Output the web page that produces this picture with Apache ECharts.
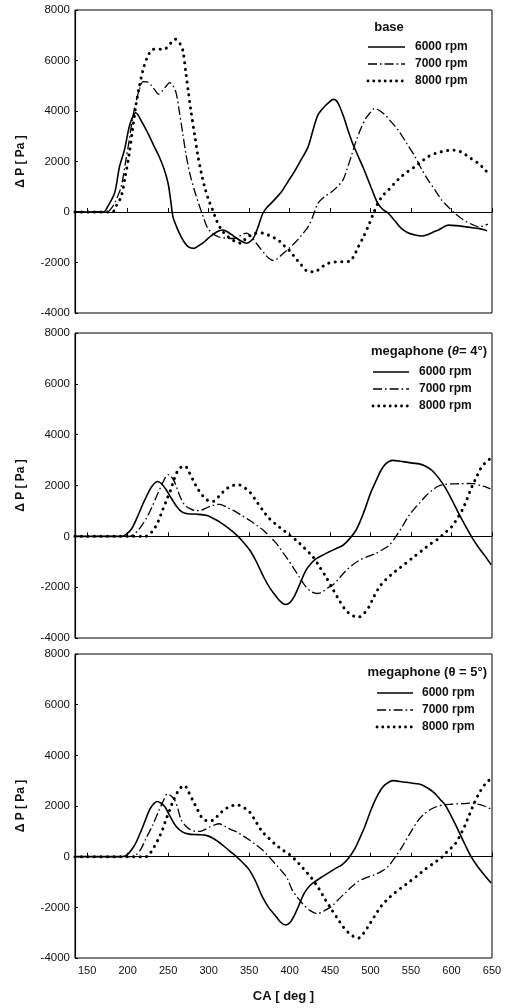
<!DOCTYPE html>
<html>
<head>
<meta charset="utf-8">
<script src="https://cdn.jsdelivr.net/npm/echarts@6/dist/echarts.min.js"></script>
<style>
  html, body { margin: 0; padding: 0; background: #fff; }
  #chart { width: 514px; height: 1008px; }
</style>
</head>
<body>
<div id="chart"></div>
<script>
// Crank-angle ticks and pressure ticks
const caTicks = [150, 200, 250, 300, 350, 400, 450, 500, 550, 600, 650];
const rpmNames = ['6000 rpm', '7000 rpm', '8000 rpm'];
const panelTitles = ['base', 'megaphone (θ= 4°)', 'megaphone (θ = 5°)'];

// Pressure fluctuation ΔP [Pa] vs crank angle [deg] — base pipe
const base6000 = [[135,0],[170,0],[176,250],[184,760],[190,1800],[196,2450],[202,3380],[206,3750],[210,3930],[217,3600],[225,3120],[232,2650],[239,2190],[245,1700],[250,1130],[253,500],[256,-190],[260,-550],[264,-850],[269,-1150],[275,-1380],[282,-1440],[288,-1330],[295,-1170],[301,-1000],[307,-850],[313,-740],[318,-710],[325,-820],[332,-980],[340,-1150],[347,-1240],[352,-1150],[356,-1000],[361,-600],[367,-50],[372,180],[377,340],[384,580],[390,800],[400,1300],[406,1600],[414,2050],[423,2590],[429,3250],[435,3840],[443,4170],[449,4350],[454,4460],[458,4400],[462,4170],[467,3750],[472,3250],[478,2700],[485,2190],[491,1750],[497,1270],[503,780],[509,340],[515,110],[522,-50],[530,-350],[538,-650],[546,-820],[555,-910],[563,-950],[570,-900],[577,-800],[584,-710],[590,-600],[596,-520],[606,-540],[616,-580],[625,-620],[633,-650],[639,-690],[644,-740]];
const base7000 = [[135,0],[175,0],[180,150],[185,420],[192,1000],[197,1900],[202,2850],[206,3700],[211,4450],[215,4900],[219,5160],[224,5150],[229,5030],[234,4820],[238,4670],[243,4800],[248,5000],[252,5120],[256,5000],[260,4700],[264,3950],[268,3120],[272,2300],[277,1500],[283,800],[289,210],[294,-250],[299,-650],[305,-850],[312,-980],[318,-1020],[324,-1040],[330,-1050],[336,-1000],[342,-880],[347,-840],[352,-950],[359,-1240],[364,-1450],[369,-1640],[374,-1820],[380,-1920],[385,-1850],[390,-1700],[398,-1480],[406,-1240],[414,-950],[423,-580],[429,-150],[435,340],[443,600],[452,800],[459,1000],[466,1270],[471,1700],[476,2190],[482,2800],[489,3380],[494,3700],[499,3910],[505,4100],[511,4020],[518,3840],[526,3550],[534,3250],[544,2750],[555,2190],[563,1700],[571,1270],[580,850],[588,470],[596,200],[604,-50],[611,-230],[618,-380],[626,-500],[633,-580],[639,-560],[645,-480]];
const base8000 = [[135,0],[181,0],[186,250],[192,610],[197,1400],[202,2320],[206,3250],[210,4170],[214,4900],[219,5620],[224,6100],[231,6440],[238,6450],[245,6440],[251,6600],[255,6750],[259,6840],[264,6700],[268,6420],[272,5490],[275,4750],[278,4040],[283,3000],[287,2190],[291,1550],[295,1000],[300,480],[305,80],[310,-350],[316,-710],[322,-920],[328,-1080],[334,-1180],[340,-1240],[346,-1050],[352,-920],[357,-850],[363,-830],[369,-850],[377,-960],[386,-1110],[392,-1300],[399,-1500],[406,-1770],[414,-2080],[423,-2360],[431,-2370],[439,-2200],[447,-2040],[456,-1980],[465,-1970],[474,-1960],[480,-1700],[485,-1370],[491,-1000],[497,-580],[503,-100],[509,340],[515,650],[522,870],[530,1150],[538,1400],[546,1600],[555,1800],[563,2000],[571,2190],[580,2320],[588,2390],[596,2440],[603,2450],[610,2400],[616,2300],[624,2120],[633,1930],[640,1720],[647,1470]];

// Megaphone, θ = 4°
const mega4_6000 = [[135,0],[192,0],[198,80],[205,300],[212,760],[220,1350],[228,1870],[233,2080],[237,2160],[242,2070],[247,1860],[254,1500],[261,1150],[267,960],[274,890],[286,870],[298,820],[306,700],[314,560],[324,330],[335,40],[343,-230],[351,-550],[359,-1000],[368,-1600],[376,-2050],[384,-2390],[390,-2600],[395,-2680],[400,-2620],[406,-2350],[413,-1850],[420,-1350],[427,-1050],[433,-880],[441,-740],[449,-610],[457,-490],[466,-350],[474,-100],[482,240],[488,650],[494,1150],[500,1700],[507,2200],[513,2600],[519,2860],[527,2990],[540,2940],[552,2880],[560,2850],[568,2760],[576,2590],[584,2300],[593,1880],[601,1400],[609,890],[617,420],[625,-30],[633,-420],[641,-760],[649,-1120]];
const mega4_7000 = [[135,0],[202,0],[206,50],[212,200],[218,450],[224,760],[230,1150],[236,1600],[241,1940],[246,2280],[250,2430],[253,2380],[257,2200],[261,1880],[265,1550],[270,1250],[277,1090],[284,1010],[290,1020],[296,1100],[302,1180],[308,1240],[314,1260],[322,1150],[331,1010],[341,820],[351,620],[360,420],[368,230],[376,-30],[384,-290],[390,-560],[396,-820],[404,-1200],[412,-1600],[420,-1980],[427,-2180],[434,-2250],[441,-2180],[447,-2030],[454,-1900],[462,-1620],[470,-1340],[478,-1120],[486,-950],[496,-800],[506,-680],[515,-520],[523,-350],[531,-20],[539,370],[547,800],[555,1120],[560,1290],[568,1580],[576,1810],[584,1980],[592,2040],[600,2060],[610,2070],[620,2080],[628,2070],[636,2000],[643,1940],[648,1870]];
const mega4_8000 = [[135,0],[222,0],[226,60],[230,180],[233,300],[238,600],[243,1020],[248,1420],[253,1810],[257,2200],[261,2530],[266,2720],[271,2760],[276,2520],[281,2200],[287,1850],[294,1550],[300,1400],[306,1380],[314,1620],[322,1870],[330,2000],[337,2030],[344,1920],[351,1740],[359,1380],[367,1020],[375,700],[384,450],[392,250],[400,50],[408,-150],[418,-450],[429,-810],[437,-1200],[445,-1600],[453,-2050],[461,-2500],[468,-2850],[474,-3040],[480,-3150],[486,-3170],[492,-3030],[498,-2780],[504,-2380],[511,-1990],[519,-1700],[527,-1470],[535,-1270],[543,-1070],[553,-820],[564,-550],[574,-300],[584,-90],[592,140],[600,370],[607,700],[613,1020],[619,1450],[625,1940],[631,2340],[637,2720],[643,2930],[648,3060]];

// Megaphone, θ = 5°
const mega5_6000 = [[135,0],[194,0],[200,90],[206,320],[211,600],[219,1200],[227,1850],[232,2080],[236,2180],[241,2120],[246,1970],[252,1620],[260,1190],[268,970],[276,890],[286,870],[297,840],[307,700],[317,470],[325,250],[334,10],[342,-230],[350,-510],[358,-970],[366,-1560],[374,-2000],[383,-2350],[389,-2590],[395,-2700],[400,-2620],[405,-2380],[411,-1960],[418,-1450],[425,-1150],[432,-970],[440,-800],[448,-640],[456,-480],[465,-310],[473,-50],[481,340],[487,750],[493,1190],[500,1800],[506,2250],[512,2600],[518,2840],[528,3000],[540,2950],[552,2900],[563,2840],[571,2700],[579,2510],[586,2260],[592,2050],[600,1580],[608,1060],[616,520],[624,10],[632,-380],[640,-700],[649,-1040]];
const mega5_7000 = [[135,0],[205,0],[210,60],[216,280],[223,740],[231,1250],[239,1850],[244,2200],[249,2480],[253,2410],[258,2240],[262,1900],[266,1460],[272,1200],[278,1060],[284,1000],[290,1000],[296,1080],[301,1170],[307,1250],[313,1300],[320,1200],[327,1080],[334,990],[342,830],[350,670],[358,480],[366,280],[375,-20],[385,-380],[391,-600],[397,-840],[403,-1300],[410,-1620],[417,-1890],[425,-2120],[434,-2250],[442,-2150],[452,-1960],[460,-1700],[469,-1430],[477,-1180],[485,-970],[495,-830],[505,-710],[514,-570],[522,-380],[530,-40],[538,340],[548,880],[558,1390],[566,1680],[575,1880],[583,1990],[591,2050],[600,2070],[612,2090],[624,2110],[632,2070],[640,2000],[649,1880]];
const mega5_8000 = [[135,0],[223,0],[227,100],[233,400],[238,700],[243,1060],[247,1430],[252,1850],[257,2250],[262,2570],[266,2740],[270,2810],[275,2570],[280,2250],[286,1880],[292,1530],[298,1420],[305,1430],[312,1640],[319,1850],[327,1990],[335,2050],[342,1960],[350,1790],[358,1400],[366,1000],[374,740],[383,470],[392,250],[400,80],[407,-120],[417,-470],[427,-840],[436,-1250],[444,-1690],[452,-2090],[460,-2480],[467,-2800],[473,-3010],[479,-3150],[485,-3210],[491,-3040],[497,-2760],[505,-2350],[513,-1960],[521,-1680],[530,-1430],[538,-1230],[546,-1040],[557,-770],[567,-510],[577,-280],[587,-50],[595,210],[604,480],[610,800],[616,1190],[622,1650],[628,2110],[634,2500],[641,2840],[649,3100]];

const panelData = [
  [base6000, base7000, base8000],
  [mega4_6000, mega4_7000, mega4_8000],
  [mega5_6000, mega5_7000, mega5_8000]
];

const FONT = '"Liberation Sans", Arial, Helvetica, sans-serif';

// stroke styles for the three engine speeds: solid, dash-dot, dotted
const dotDash = [0.1, 6.4];
const lineStyles = [
  { color: '#000', width: 1.6, type: 'solid' },
  { color: '#000', width: 1.3, type: [9, 3, 1.6, 3] },
  { color: '#000', width: 3, type: dotDash, cap: 'round' }
];

const grids = [
  { left: 75, right: 22, top: 10, height: 303 },
  { left: 75, right: 22, top: 333, height: 305 },
  { left: 75, right: 22, top: 654, height: 304 }
];

const xAxes = grids.map((g, i) => ({
  gridIndex: i,
  type: 'value',
  min: 135,
  max: 650,
  name: i === 2 ? 'CA [ deg ]' : '',
  nameLocation: 'middle',
  nameGap: 32,
  nameTextStyle: { fontFamily: FONT, fontWeight: 'bold', fontSize: 13, color: '#111' },
  axisLine: { show: true, lineStyle: { color: '#000', width: 1.2 } },
  axisTick: { show: true, inside: true, length: 4, customValues: caTicks, lineStyle: { color: '#000' } },
  axisLabel: {
    show: i === 2, customValues: caTicks, margin: 7,
    fontFamily: FONT, fontSize: 11, color: '#111',
    formatter: v => String(v)
  },
  splitLine: { show: false }
}));

const yAxes = grids.map((g, i) => ({
  gridIndex: i,
  type: 'value',
  min: -4000,
  max: 8000,
  interval: 2000,
  name: 'Δ P [ Pa ]',
  nameLocation: 'middle',
  nameGap: 48,
  nameTextStyle: { fontFamily: FONT, fontWeight: 'bold', fontSize: 12, color: '#111' },
  axisLine: { show: true, lineStyle: { color: '#000', width: 1.2 } },
  axisTick: { show: true, inside: true, length: 3, lineStyle: { color: '#000' } },
  axisLabel: { margin: 5, fontFamily: FONT, fontSize: 11.5, color: '#111', formatter: v => String(v) },
  splitLine: { show: false }
}));

const series = [];
panelData.forEach((sets, p) => {
  sets.forEach((data, k) => {
    series.push({
      name: rpmNames[k],
      type: 'line',
      xAxisIndex: p,
      yAxisIndex: p,
      data: data,
      symbol: 'none',
      smooth: 0.3,
      lineStyle: lineStyles[k],
      silent: true
    });
  });
});

// legend blocks drawn inside each panel
const legendSpecs = [
  { title: panelTitles[0], titleX: 389, titleAlign: 'center', titleY: 27, rowY: [47, 64, 81], x1: 368, x2: 405, textX: 415 },
  { title: panelTitles[1], titleX: 487, titleAlign: 'right', titleY: 351, rowY: [372, 389, 406], x1: 373, x2: 409, textX: 419 },
  { title: panelTitles[2], titleX: 487, titleAlign: 'right', titleY: 672, rowY: [693, 710, 727], x1: 377, x2: 413, textX: 422 }
];

const legendDash = [null, [9, 3, 1.6, 3], [0.1, 5.6]];
const legendWidth = [1.6, 1.3, 2.8];

const graphic = [];
legendSpecs.forEach((L, p) => {
  let titleStyle;
  if (p === 1) {
    titleStyle = {
      text: '{a|megaphone (}{t|θ}{a|= 4°)}',
      rich: {
        a: { fontFamily: FONT, fontWeight: 'bold', fontSize: 13, fill: '#111' },
        t: { fontFamily: FONT, fontWeight: 'bold', fontStyle: 'italic', fontSize: 13, fill: '#111' }
      }
    };
  } else {
    titleStyle = { text: L.title, fontFamily: FONT, fontWeight: 'bold', fontSize: 13, fill: '#111' };
  }
  graphic.push({
    type: 'text', x: L.titleX, y: L.titleY, silent: true,
    style: Object.assign({ textAlign: L.titleAlign, textVerticalAlign: 'middle' }, titleStyle)
  });
  rpmNames.forEach((nm, k) => {
    graphic.push({
      type: 'line', silent: true,
      shape: { x1: L.x1, y1: L.rowY[k], x2: L.x2, y2: L.rowY[k] },
      style: { stroke: '#000', lineWidth: legendWidth[k], lineDash: legendDash[k], lineCap: k === 2 ? 'round' : 'butt' }
    });
    graphic.push({
      type: 'text', x: L.textX, y: L.rowY[k], silent: true,
      style: { text: nm, fontFamily: FONT, fontWeight: 'bold', fontSize: 12, fill: '#111', textVerticalAlign: 'middle' }
    });
  });
});

const chart = echarts.init(document.getElementById('chart'), null, { renderer: 'canvas' });
chart.setOption({
  animation: false,
  backgroundColor: '#fff',
  grid: grids.map(g => Object.assign({ show: true, borderColor: '#000', borderWidth: 1, backgroundColor: 'transparent' }, g)),
  xAxis: xAxes,
  yAxis: yAxes,
  series: series,
  graphic: graphic
});
</script>
</body>
</html>
